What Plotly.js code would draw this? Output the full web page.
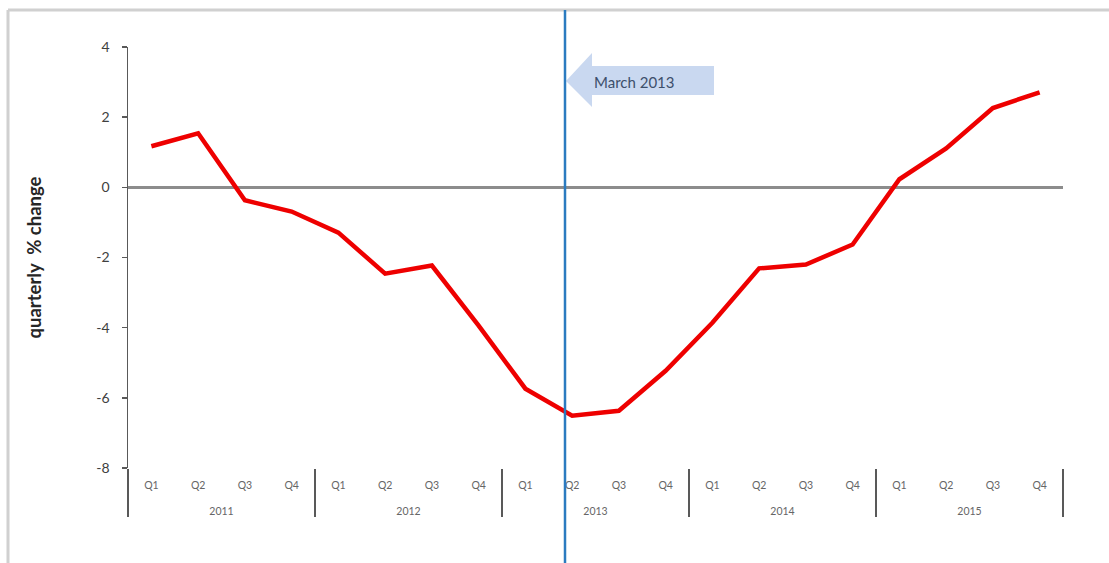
<!DOCTYPE html>
<html>
<head>
<meta charset="utf-8">
<script src="https://cdn.plot.ly/plotly-3.0.1.min.js"></script>
<style>
html,body{margin:0;padding:0;background:#fff;}
#chart{width:1109px;height:563px;}
</style>
</head>
<body>
<div id="chart"></div>
<script>
// ---- data ----
var years = ['2011', '2012', '2013', '2014', '2015'];
var quarters = ['Q1', 'Q2', 'Q3', 'Q4'];
var values = [1.17, 1.54, -0.37, -0.69,
              -1.29, -2.46, -2.23, -3.94,
              -5.74, -6.51, -6.37, -5.23,
              -3.86, -2.31, -2.20, -1.63,
              0.23, 1.11, 2.26, 2.71];
var yTickVals = [-8, -6, -4, -2, 0, 2, 4];
var yTickText = ['-8', '-6', '-4', '-2', '0', '2', '4'];
var yTitle = 'quarterly  % change';
var markerLabel = 'March 2013';

// build multicategory x from the arrays (extra blank line spaces the two label rows)
var xYear = [], xQ = [];
years.forEach(function (y) {
  quarters.forEach(function (q) {
    xYear.push(y);
    xQ.push(q + '<br><span style="font-size:27px">\u00a0</span>');
  });
});

// plot-area geometry helpers (figure pixels -> paper coords)
var L = 128, R = 46, T = 47, B = 95, W = 1109, H = 563;
var pw = W - L - R, ph = H - T - B;
function px(x) { return (x - L) / pw; }
function py(y) { return (H - B - y) / ph; }

var arrowPath = 'M ' + px(566) + ' ' + py(81) +
  ' L ' + px(592) + ' ' + py(53) +
  ' L ' + px(592) + ' ' + py(66) +
  ' L ' + px(714) + ' ' + py(66) +
  ' L ' + px(714) + ' ' + py(95) +
  ' L ' + px(592) + ' ' + py(95) +
  ' L ' + px(592) + ' ' + py(107) + ' Z';

var trace = {
  type: 'scatter',
  mode: 'lines',
  x: [xYear, xQ],
  y: values,
  line: { color: '#ee0000', width: 4.5 },
  hoverinfo: 'skip'
};

var layout = {
  width: W, height: H,
  margin: { l: L, r: R, t: T, b: B, pad: 0 },
  paper_bgcolor: '#ffffff',
  plot_bgcolor: '#ffffff',
  showlegend: false,
  font: { family: 'Lato, "Open Sans", sans-serif', color: '#404040' },
  xaxis: {
    type: 'multicategory',
    range: [-0.5, 19.5],
    showgrid: false,
    zeroline: false,
    showline: false,
    ticks: '',
    ticklabelstandoff: 9,
    showdividers: true,
    dividercolor: '#595959',
    dividerwidth: 2,
    tickfont: { size: 10.5, color: '#666666', family: 'Lato, sans-serif' },
    automargin: false,
    fixedrange: true
  },
  yaxis: {
    range: [-8, 4],
    tickmode: 'array',
    tickvals: yTickVals,
    ticktext: yTickText,
    showgrid: false,
    zeroline: true,
    zerolinecolor: '#8c8c8c',
    zerolinewidth: 2.5,
    showline: true,
    linecolor: '#595959',
    linewidth: 1.5,
    ticks: 'outside',
    ticklen: 5,
    tickcolor: '#595959',
    tickwidth: 1.5,
    ticklabelstandoff: 9,
    tickfont: { size: 14, color: '#404040', family: 'Lato, sans-serif' },
    title: { text: yTitle, font: { size: 18.5, color: '#262626', family: 'Lato, sans-serif', weight: 'bold' }, standoff: 50 },
    automargin: false,
    fixedrange: true
  },
  shapes: [
    // outer chart border (top and left)
    { type: 'line', xref: 'paper', yref: 'paper', x0: px(8), x1: px(1115), y0: py(10), y1: py(10),
      line: { color: '#d0d0d0', width: 3 }, layer: 'below' },
    { type: 'line', xref: 'paper', yref: 'paper', x0: px(8), x1: px(8), y0: py(10), y1: py(570),
      line: { color: '#d0d0d0', width: 3 }, layer: 'below' },
    // block arrow
    { type: 'path', xref: 'paper', yref: 'paper', path: arrowPath,
      fillcolor: '#c9d8f0', line: { width: 0 }, layer: 'below' },
    // March 2013 vertical marker
    { type: 'line', xref: 'paper', yref: 'paper', x0: px(565), x1: px(565), y0: py(570), y1: py(10),
      line: { color: '#2b7bc0', width: 2.5 } }
  ],
  annotations: [
    { xref: 'paper', yref: 'paper', x: px(634), y: py(82), text: markerLabel, showarrow: false,
      font: { size: 15, color: '#3d4f6b', family: 'Lato, sans-serif' }, xanchor: 'center', yanchor: 'middle' }
  ]
};

Plotly.newPlot('chart', [trace], layout, { displayModeBar: false, staticPlot: true });
</script>
</body>
</html>
